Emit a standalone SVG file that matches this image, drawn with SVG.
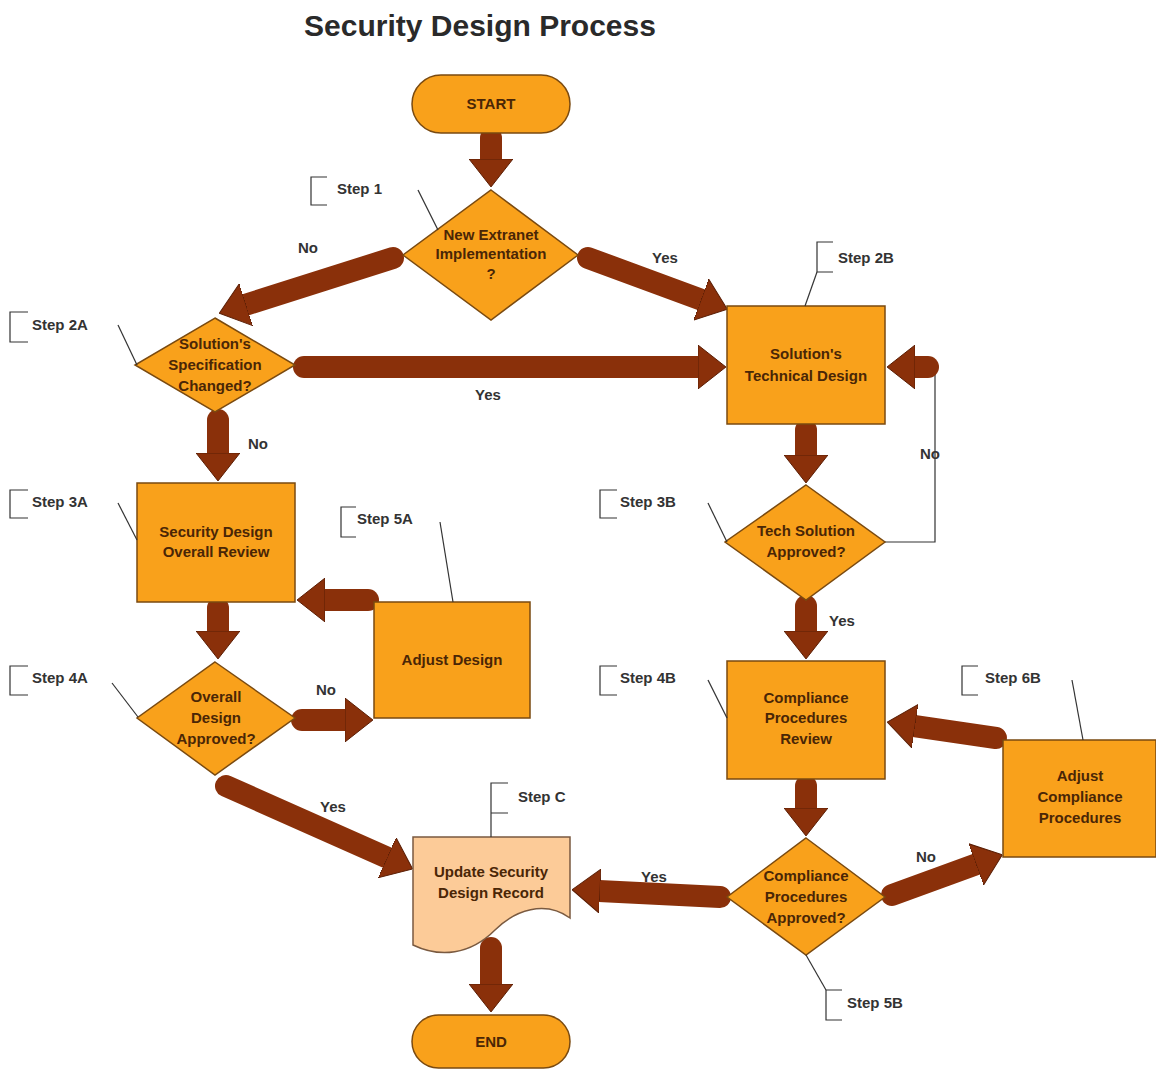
<svg xmlns="http://www.w3.org/2000/svg" width="1156" height="1070" viewBox="0 0 1156 1070">
<defs>
<style>
.node{fill:#F9A11B;stroke:#7A4A10;stroke-width:1.5}
.doc{fill:#FCCB98;stroke:#7A5A40;stroke-width:1.5}
.nt{font-family:"Liberation Sans",Arial,sans-serif;font-weight:bold;font-size:15px;fill:#4A2606;text-anchor:middle}
.lb{font-family:"Liberation Sans",Arial,sans-serif;font-weight:bold;font-size:15px;fill:#333}
.title{font-family:"Liberation Sans",Arial,sans-serif;font-weight:bold;font-size:30px;fill:#2a2a2a;text-anchor:middle}
.ann{fill:none;stroke:#333;stroke-width:1.2}
.arr{fill:none;stroke:#8A300A;stroke-width:22;stroke-linecap:round;marker-end:url(#head)}
.thin{fill:none;stroke:#333;stroke-width:1.2}
</style>
<marker id="head" viewBox="0 0 28 44" refX="1" refY="22" markerWidth="1.27" markerHeight="2" orient="auto" markerUnits="strokeWidth">
<path d="M0,0 L28,22 L0,44 Z" fill="#8A300A" stroke="#5A1E05" stroke-width="1"/>
</marker>
</defs>
<rect width="1156" height="1070" fill="#fff"/>
<text class="title" x="480" y="36">Security Design Process</text>

<g id="connectors">
<line class="arr" x1="491" y1="138" x2="491" y2="160"/>
<line class="arr" x1="393" y1="258" x2="245" y2="305"/>
<line class="arr" x1="588" y1="258" x2="702" y2="300"/>
<line class="arr" x1="304" y1="367" x2="699" y2="367"/>
<line class="arr" x1="218" y1="420" x2="218" y2="454"/>
<line class="arr" x1="218" y1="608" x2="218" y2="632"/>
<line class="arr" x1="368" y1="600" x2="324" y2="600"/>
<line class="arr" x1="302" y1="720" x2="346" y2="720"/>
<line class="arr" x1="226" y1="786" x2="388" y2="858"/>
<line class="arr" x1="491" y1="948" x2="491" y2="985"/>
<line class="arr" x1="806" y1="430" x2="806" y2="456"/>
<line class="arr" x1="806" y1="606" x2="806" y2="632"/>
<polyline class="thin" points="885,542 935,542 935,372"/>
<line class="arr" x1="928" y1="367" x2="914" y2="367"/>
<line class="arr" x1="806" y1="786" x2="806" y2="809"/>
<line class="arr" x1="996" y1="738" x2="914" y2="726"/>
<line class="arr" x1="720" y1="897" x2="599" y2="891"/>
<line class="arr" x1="892" y1="895" x2="977" y2="864"/>
<text class="lb" x="298" y="253">No</text>
<text class="lb" x="652" y="263">Yes</text>
<text class="lb" x="475" y="400">Yes</text>
<text class="lb" x="248" y="449">No</text>
<text class="lb" x="920" y="459">No</text>
<text class="lb" x="829" y="626">Yes</text>
<text class="lb" x="316" y="695">No</text>
<text class="lb" x="320" y="812">Yes</text>
<text class="lb" x="641" y="882">Yes</text>
<text class="lb" x="916" y="862">No</text>
</g>

<g id="start">
<rect class="node" x="412" y="75" width="158" height="58" rx="29"/>
<text class="nt" x="491" y="109">START</text>
</g>

<g id="d1">
<polygon class="node" points="491,190 578,255 491,320 403,255"/>
<text class="nt" x="491" y="240">New Extranet</text>
<text class="nt" x="491" y="259">Implementation</text>
<text class="nt" x="491" y="279">?</text>
</g>
<g id="step1">
<path class="ann" d="M327,177 H311 V205 H327"/>
<text class="lb" x="337" y="194">Step 1</text>
<line class="ann" x1="418" y1="190" x2="438" y2="230"/>
</g>

<g id="d2a">
<polygon class="node" points="215,318 295,365 215,412 135,365"/>
<text class="nt" x="215" y="349">Solution's</text>
<text class="nt" x="215" y="370">Specification</text>
<text class="nt" x="215" y="391">Changed?</text>
</g>
<g id="step2a">
<path class="ann" d="M28,312 H10 V342 H28"/>
<text class="lb" x="32" y="330">Step 2A</text>
<line class="ann" x1="118" y1="325" x2="137" y2="365"/>
</g>

<g id="techdesign">
<rect class="node" x="727" y="306" width="158" height="118"/>
<text class="nt" x="806" y="359">Solution's</text>
<text class="nt" x="806" y="381">Technical Design</text>
</g>
<g id="step2b">
<path class="ann" d="M833,242 H817 V272 H833"/>
<text class="lb" x="838" y="263">Step 2B</text>
<line class="ann" x1="817" y1="272" x2="805" y2="306"/>
</g>

<g id="secreview">
<rect class="node" x="137" y="483" width="158" height="119"/>
<text class="nt" x="216" y="537">Security Design</text>
<text class="nt" x="216" y="557">Overall Review</text>
</g>
<g id="step3a">
<path class="ann" d="M28,490 H10 V518 H28"/>
<text class="lb" x="32" y="507">Step 3A</text>
<line class="ann" x1="118" y1="503" x2="137" y2="540"/>
</g>

<g id="adjustdesign">
<rect class="node" x="374" y="602" width="156" height="116"/>
<text class="nt" x="452" y="665">Adjust Design</text>
</g>
<g id="step5a">
<path class="ann" d="M356,507 H341 V537 H356"/>
<text class="lb" x="357" y="524">Step 5A</text>
<line class="ann" x1="440" y1="522" x2="453" y2="602"/>
</g>

<g id="d4a">
<polygon class="node" points="215,662 295,718 215,775 137,718"/>
<text class="nt" x="216" y="702">Overall</text>
<text class="nt" x="216" y="723">Design</text>
<text class="nt" x="216" y="744">Approved?</text>
</g>
<g id="step4a">
<path class="ann" d="M28,666 H10 V695 H28"/>
<text class="lb" x="32" y="683">Step 4A</text>
<line class="ann" x1="112" y1="683" x2="138" y2="717"/>
</g>

<g id="d3b">
<polygon class="node" points="806,485 885,542 806,600 725,542"/>
<text class="nt" x="806" y="536">Tech Solution</text>
<text class="nt" x="806" y="557">Approved?</text>
</g>
<g id="step3b">
<path class="ann" d="M617,490 H600 V518 H617"/>
<text class="lb" x="620" y="507">Step 3B</text>
<line class="ann" x1="708" y1="503" x2="727" y2="542"/>
</g>

<g id="compreview">
<rect class="node" x="727" y="661" width="158" height="118"/>
<text class="nt" x="806" y="703">Compliance</text>
<text class="nt" x="806" y="723">Procedures</text>
<text class="nt" x="806" y="744">Review</text>
</g>
<g id="step4b">
<path class="ann" d="M617,666 H600 V695 H617"/>
<text class="lb" x="620" y="683">Step 4B</text>
<line class="ann" x1="708" y1="680" x2="727" y2="718"/>
</g>

<g id="adjustcomp">
<rect class="node" x="1003" y="740" width="153" height="117"/>
<text class="nt" x="1080" y="781">Adjust</text>
<text class="nt" x="1080" y="802">Compliance</text>
<text class="nt" x="1080" y="823">Procedures</text>
</g>
<g id="step6b">
<path class="ann" d="M978,666 H962 V695 H978"/>
<text class="lb" x="985" y="683">Step 6B</text>
<line class="ann" x1="1072" y1="680" x2="1083" y2="740"/>
</g>

<g id="d5b">
<polygon class="node" points="806,838 885,897 806,955 727,897"/>
<text class="nt" x="806" y="881">Compliance</text>
<text class="nt" x="806" y="902">Procedures</text>
<text class="nt" x="806" y="923">Approved?</text>
</g>
<g id="step5b">
<path class="ann" d="M842,990 H826 V1020 H842"/>
<text class="lb" x="847" y="1008">Step 5B</text>
<line class="ann" x1="806" y1="955" x2="826" y2="990"/>
</g>

<g id="record">
<path class="doc" d="M413,837 H570 V918 C545,900 515,910 495,930 C470,955 440,958 413,945 Z"/>
<text class="nt" x="491" y="877">Update Security</text>
<text class="nt" x="491" y="898">Design Record</text>
</g>
<g id="stepc">
<path class="ann" d="M508,783 H491 V837 M491,813 H508"/>
<text class="lb" x="518" y="802">Step C</text>
</g>

<g id="end">
<rect class="node" x="412" y="1015" width="158" height="53" rx="26.5"/>
<text class="nt" x="491" y="1047">END</text>
</g>
</svg>
